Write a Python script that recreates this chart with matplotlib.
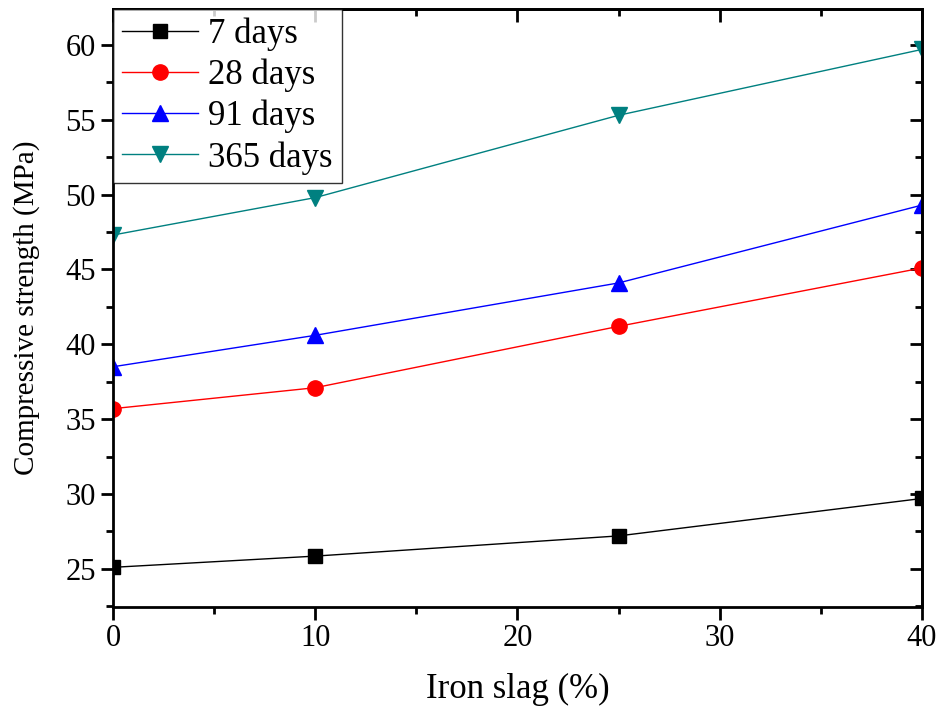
import matplotlib
matplotlib.use('Agg')
import matplotlib.pyplot as plt
from matplotlib.ticker import MultipleLocator

plt.rcParams['font.family'] = ['Liberation Serif', 'DejaVu Serif']

# data
slag = [0, 10, 25, 40]
d7 = [25.1, 25.85, 27.2, 29.7]
d28 = [35.7, 37.1, 41.2, 45.1]
d91 = [38.5, 40.6, 44.1, 49.3]
d365 = [47.3, 49.8, 55.3, 59.7]

fig = plt.figure(figsize=(9.45, 7.13), dpi=100)
ax = fig.add_axes([113/945, 1-607/713, (922-113)/945, (607-9)/713])

ax.plot(slag, d7, color='black', marker='s', ms=10, lw=1, label='7 days')
ax.plot(slag, d28, color='red', marker='o', ms=11, lw=1, label='28 days')
ax.plot(slag, d91, color='blue', marker='^', ms=12, lw=1, label='91 days')
ax.plot(slag, d365, color='#008080', marker='v', ms=12, lw=1, label='365 days')

ax.set_xlim(0, 40)
ax.set_ylim(22.45, 62.4)
ax.xaxis.set_major_locator(MultipleLocator(10))
ax.xaxis.set_minor_locator(MultipleLocator(5))
ax.yaxis.set_major_locator(MultipleLocator(5))
ax.yaxis.set_minor_locator(MultipleLocator(2.5))

for s in ax.spines.values():
    s.set_linewidth(2)

ax.tick_params(which='both', direction='out', width=2, labelsize=22,
               top=False, right=False)
ax.tick_params(which='major', length=9)
ax.tick_params(which='minor', length=5)

# mirrored ticks pointing inward on top/right
ax2 = ax.secondary_xaxis('top')
ax2.xaxis.set_major_locator(MultipleLocator(10))
ax2.xaxis.set_minor_locator(MultipleLocator(5))
ax2.tick_params(which='both', direction='in', width=2, labeltop=False)
ax2.tick_params(which='major', length=9)
ax2.tick_params(which='minor', length=5)
ax3 = ax.secondary_yaxis('right')
ax3.yaxis.set_major_locator(MultipleLocator(5))
ax3.yaxis.set_minor_locator(MultipleLocator(2.5))
ax3.tick_params(which='both', direction='in', width=2, labelright=False)
ax3.tick_params(which='major', length=9)
ax3.tick_params(which='minor', length=5)
for a in (ax2, ax3):
    for s in a.spines.values():
        s.set_linewidth(2)

ax.set_xlabel('Iron slag (%)', fontsize=25, labelpad=14)
ax.set_ylabel('Compressive strength (MPa)', fontsize=21, labelpad=18)

leg = ax.legend(loc='upper left', fontsize=25, frameon=True, fancybox=False,
                borderaxespad=0, handlelength=2.2, labelspacing=0.22,
                borderpad=0.25, handletextpad=0.3)
leg.get_frame().set_edgecolor('black')
leg.get_frame().set_linewidth(1)

fig.savefig('out.png', dpi=100)
